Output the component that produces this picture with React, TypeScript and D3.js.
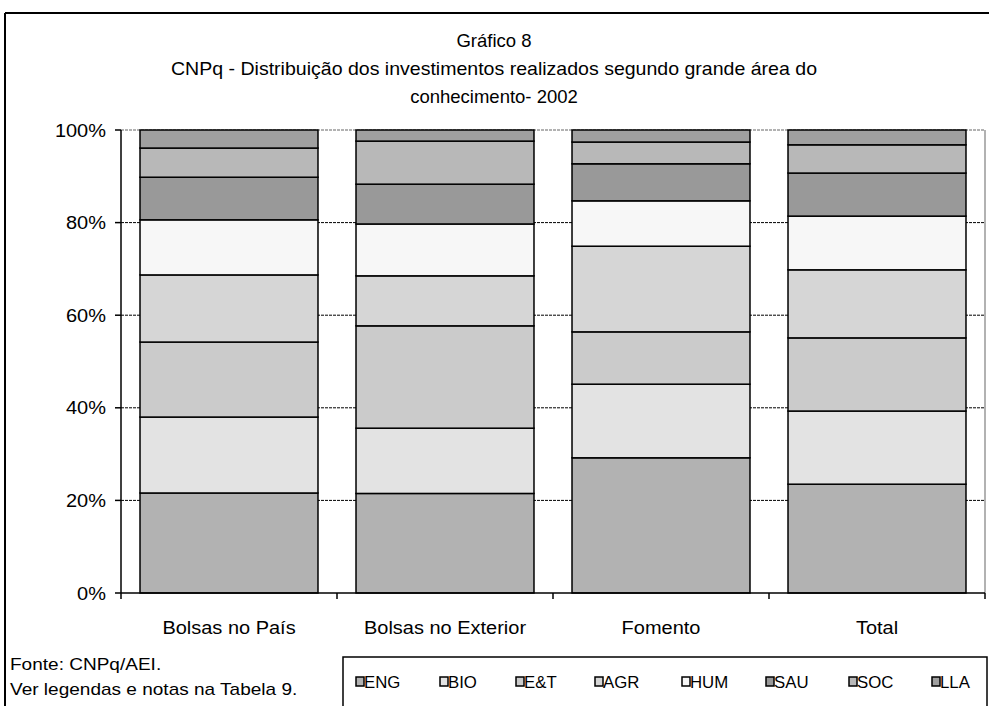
import React from "react";
import * as d3 from "d3";

const categories = ["Bolsas no País", "Bolsas no Exterior", "Fomento", "Total"];
const seriesNames = ["ENG", "BIO", "E&T", "AGR", "HUM", "SAU", "SOC", "LLA"];
const ENG = [21.6, 21.5, 29.2, 23.5];
const BIO = [16.4, 14.1, 15.9, 15.8];
const ET = [16.2, 22.1, 11.3, 15.8];
const AGR = [14.5, 10.8, 18.5, 14.7];
const HUM = [11.9, 11.2, 9.8, 11.6];
const SAU = [9.2, 8.6, 8.0, 9.3];
const SOC = [6.3, 9.3, 4.7, 6.1];
const LLA = [3.9, 2.4, 2.6, 3.2];
const yTicks = [0, 20, 40, 60, 80, 100];
const colors = ["#b2b2b2", "#e3e3e3", "#cbcbcb", "#d6d6d6", "#f7f7f7", "#999999", "#b8b8b8", "#a0a0a0"];

const seriesValues = [ENG, BIO, ET, AGR, HUM, SAU, SOC, LLA];

const font = "Arial, 'Liberation Sans', sans-serif";

function T({ x, y, size, sx = 1.08, anchor = "start", children }: any) {
  return (
    <text
      transform={`translate(${x},${y}) scale(${sx},1)`}
      textAnchor={anchor}
      fontFamily={font}
      fontSize={size}
      fill="#000"
    >
      {children}
    </text>
  );
}

export default function App() {
  const W = 989, H = 706;
  const left = 121, right = 985, top = 130, bottom = 593;

  const table = categories.map((c, i) => {
    const row: any = { cat: c };
    seriesNames.forEach((s, j) => (row[s] = seriesValues[j][i]));
    return row;
  });
  const stacked = d3.stack().keys(seriesNames).offset(d3.stackOffsetExpand)(table);

  const x = d3.scaleBand().domain(categories).range([left, right]).paddingInner(0.176).paddingOuter(0.088);
  const xb = d3.scaleBand().domain(categories).range([left, right]);
  const y = d3.scaleLinear().domain([0, 100]).range([bottom, top]);

  const legendX = [356, 440, 516, 595, 682, 766, 849, 932];

  return (
    <svg width={W} height={H} style={{ position: "absolute", left: 0, top: 0 }}>
      <rect x={0} y={0} width={W} height={H} fill="#fff" />
      {/* outer frame */}
      <line x1={5} x2={W} y1={13} y2={13} stroke="#000" strokeWidth={2} />
      <line x1={5} x2={5} y1={13} y2={H} stroke="#000" strokeWidth={2} />

      {/* title */}
      <T x={494} y={47} size={18.5} sx={1} anchor="middle">Gráfico 8</T>
      <text x={494} y={75} textAnchor="middle" fontFamily={font} fontSize={18.5} textLength={646} lengthAdjust="spacingAndGlyphs">
        CNPq - Distribuição dos investimentos realizados segundo grande área do
      </text>
      <T x={494} y={103} size={18.5} sx={1} anchor="middle">conhecimento- 2002</T>

      {/* plot border (gray) */}
      <line x1={left} x2={right} y1={top} y2={top} stroke="#999" strokeWidth={1.5} strokeDasharray="3,1" />
      <line x1={right} x2={right} y1={top} y2={bottom} stroke="#999" strokeWidth={1.5} />

      {/* gridlines */}
      {yTicks.filter((t) => t > 0 && t < 100).map((t) => (
        <line key={t} x1={left} x2={right} y1={y(t)} y2={y(t)} stroke="#000" strokeWidth={1} strokeDasharray="3,1" />
      ))}

      {/* bars */}
      {stacked.map((layer, j) => (
        <g key={seriesNames[j]}>
          {layer.map((d, i) => (
            <rect
              key={i}
              x={x(categories[i])}
              width={x.bandwidth()}
              y={y(d[1] * 100)}
              height={y(d[0] * 100) - y(d[1] * 100)}
              fill={colors[j]}
              stroke="#000"
              strokeWidth={1.5}
            />
          ))}
        </g>
      ))}

      {/* axes */}
      <line x1={left} x2={left} y1={top} y2={bottom} stroke="#000" strokeWidth={1.5} />
      <line x1={left} x2={right} y1={bottom} y2={bottom} stroke="#000" strokeWidth={1.5} />
      {yTicks.map((t) => (
        <g key={t}>
          <line x1={left - 6} x2={left} y1={y(t)} y2={y(t)} stroke="#000" strokeWidth={1.5} />
          <T x={106} y={y(t) + 6.5} size={18.5} anchor="end">{t}%</T>
        </g>
      ))}
      {categories.map((c, i) => (
        <line key={"t" + i} x1={xb(c)!} x2={xb(c)!} y1={bottom} y2={bottom + 6} stroke="#000" strokeWidth={1.5} />
      ))}
      <line x1={right} x2={right} y1={bottom} y2={bottom + 6} stroke="#000" strokeWidth={1.5} />
      {categories.map((c) => (
        <T key={c} x={xb(c)! + xb.bandwidth() / 2} y={634} size={18.5} anchor="middle">{c}</T>
      ))}

      {/* footnotes */}
      <T x={10} y={670} size={17} sx={1.12}>Fonte: CNPq/AEI.</T>
      <T x={10} y={695} size={17} sx={1.12}>Ver legendas e notas na Tabela 9.</T>

      {/* legend */}
      <rect x={343} y={657} width={644} height={60} fill="#fff" stroke="#000" strokeWidth={1.5} />
      {seriesNames.map((s, j) => (
        <g key={s}>
          <rect x={legendX[j]} y={677} width={8} height={9} fill={colors[j]} stroke="#000" strokeWidth={1.5} />
          <T x={legendX[j] + 8} y={688} size={16} sx={1.05}>{s}</T>
        </g>
      ))}
    </svg>
  );
}
